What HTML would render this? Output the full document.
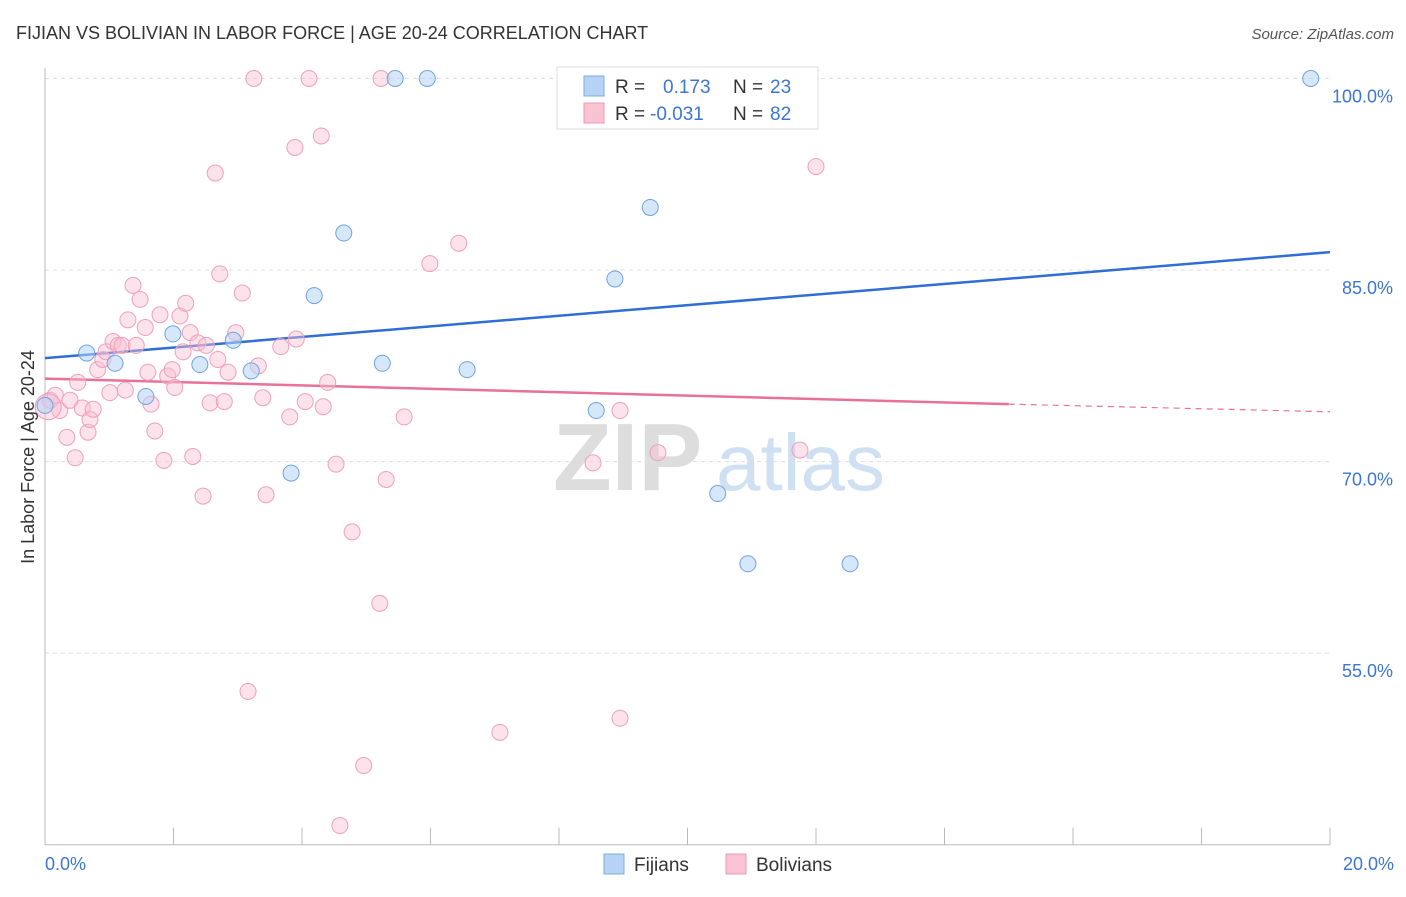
<!DOCTYPE html>
<html><head><meta charset="utf-8"><style>
body{margin:0;background:#fff;font-family:"Liberation Sans",sans-serif}
svg text{font-family:"Liberation Sans",sans-serif}
</style></head><body>
<svg width="1406" height="892" xmlns="http://www.w3.org/2000/svg">
<text x="16" y="39" font-size="18" fill="#333">FIJIAN VS BOLIVIAN IN LABOR FORCE | AGE 20-24 CORRELATION CHART</text>
<text x="1394" y="39" font-size="15" fill="#555" text-anchor="end" font-style="italic">Source: ZipAtlas.com</text>
<g>
<text x="553" y="490" font-size="96" font-weight="bold" fill="#ddd">ZIP</text>
<text x="716" y="490" font-size="80" fill="#cfe0f3">atlas</text>
</g>
<g id="grid"></g>
<g id="axes"></g>
<g id="lines"></g>
<g id="pts"></g>
<text transform="translate(34,457) rotate(-90)" font-size="18" fill="#333" text-anchor="middle">In Labor Force | Age 20-24</text>
<g>
<rect x="557" y="67" width="261" height="62" fill="#fff" stroke="#ddd"/>
<rect x="584" y="76" width="20" height="20" fill="#b6d3f5" stroke="#7aaee6"/>
<rect x="584" y="103" width="20" height="20" fill="#f9c3d4" stroke="#ee9ab5"/>
<text x="615" y="93" font-size="19" fill="#333">R =</text>
<text x="663" y="93" font-size="19" fill="#3b76d6">0.173</text>
<text x="733" y="93" font-size="19" fill="#333">N =</text>
<text x="770" y="93" font-size="19" fill="#3b76d6">23</text>
<text x="615" y="120" font-size="19" fill="#333">R =</text>
<text x="650" y="120" font-size="19" fill="#3b76d6">-0.031</text>
<text x="733" y="120" font-size="19" fill="#333">N =</text>
<text x="770" y="120" font-size="19" fill="#3b76d6">82</text>
</g>
<g>
<rect x="604" y="854" width="20" height="20" fill="#b6d3f5" stroke="#7aaee6"/>
<text x="634" y="871" font-size="19" fill="#333">Fijians</text>
<rect x="726" y="854" width="20" height="20" fill="#f9c3d4" stroke="#ee9ab5"/>
<text x="756" y="871" font-size="19" fill="#333">Bolivians</text>
</g>
</svg>
<script>
const yTicks=[100,85,70,55];
const yTickLabels=["100.0%","85.0%","70.0%","55.0%"];
const xTickLabels=["0.0%","20.0%"];
const fijX=[0,0.65,1.09,1.57,1.99,2.41,2.93,3.21,3.83,4.19,4.65,5.25,5.45,5.95,6.57,8.58,8.87,9.42,10.47,10.94,12.53,19.7,9.73];
const fijY=[74.4,78.5,77.7,75.1,80.0,77.6,79.5,77.1,69.1,83.0,87.9,77.7,100,100,77.2,74.0,84.3,89.9,67.5,62.0,62.0,100,100];
const bolX=[0.08,0.16,0.23,0.34,0.39,0.47,0.51,0.58,0.67,0.70,0.75,0.82,0.90,0.95,1.01,1.06,1.14,1.20,1.25,1.29,1.37,1.42,1.48,1.56,1.60,1.65,1.71,1.79,1.85,1.91,1.98,2.02,2.10,2.15,2.19,2.26,2.30,2.38,2.46,2.51,2.57,2.65,2.69,2.72,2.79,2.85,2.97,3.07,3.16,3.25,3.32,3.39,3.44,3.67,3.81,3.89,3.91,4.05,4.11,4.30,4.33,4.40,4.53,4.59,4.78,4.96,5.21,5.23,5.31,5.59,5.99,6.44,7.08,8.53,8.95,8.95,9.54,11.28,11.75,12.00,0.05];
const bolY=[74.8,75.2,74.0,71.9,74.8,70.3,76.2,74.2,72.3,73.3,74.1,77.2,78.0,78.6,75.4,79.4,79.1,79.1,75.6,81.1,83.8,79.1,82.7,80.5,77.0,74.5,72.4,81.5,70.1,76.7,77.2,75.8,81.4,78.6,82.4,80.1,70.4,79.3,67.3,79.1,74.6,92.6,78.0,84.7,74.7,77.0,80.1,83.2,52.0,100,77.5,75.0,67.4,79.0,73.5,94.6,79.6,74.7,100,95.5,74.3,76.2,69.8,41.5,64.5,46.2,58.9,100,68.6,73.5,85.5,87.1,48.8,69.9,74.0,49.9,70.7,100,70.9,93.1,74.3];
const fijTrend=[78.1,86.4];
const bolTrend=[76.5,74.5,73.9];
const X=v=>45+v*64.25, Y=v=>78.5+(100-v)*12.77;
const NS="http://www.w3.org/2000/svg";
function mk(p,t,a){const e=document.createElementNS(NS,t);for(const k in a)e.setAttribute(k,a[k]);document.getElementById(p).appendChild(e);return e;}
yTicks.forEach((t,i)=>{
 const l=mk('grid','line',{x1:45,x2:1330,y1:Y(t),y2:Y(t),stroke:'#ddd','stroke-dasharray':'4,4'});
 
 
 const tx=mk('grid','text',{x:1393,y:Y(t)+24,'font-size':18,fill:'#3b76d6','text-anchor':'end'});
 tx.textContent=yTickLabels[i];
 
 
});
const ax=mk('axes','line',{x1:45,x2:1330,y1:Y(40),y2:Y(40),stroke:'#bbb'});


const ay=mk('axes','line',{x1:45,x2:45,y1:68,y2:Y(40),stroke:'#bbb'});


for(let i=0;i<=10;i++){const t=mk('axes','line',{x1:X(i*2),x2:X(i*2),y1:Y(40)-17,y2:Y(40),stroke:'#bbb'});
 
 }
[[0,'start',45],[20,'end',1394]].forEach((d,i)=>{const t=mk('axes','text',{x:d[2],y:870,'font-size':18,fill:'#3b76d6','text-anchor':d[1]});t.textContent=xTickLabels[i];
 
 });
bolX.forEach((x,i)=>{const c=mk('pts','circle',{cx:X(x),cy:Y(bolY[i]),r:i==bolX.length-1?13:8,fill:'rgba(249,190,210,0.45)',stroke:'#eea0b9','stroke-width':1});
 
 });
fijX.forEach((x,i)=>{const c=mk('pts','circle',{cx:X(x),cy:Y(fijY[i]),r:8,fill:'rgba(182,211,245,0.55)',stroke:'#6fa3e0','stroke-width':1});
 
 });
const fl=mk('lines','line',{x1:X(0),y1:Y(fijTrend[0]),x2:X(20),y2:Y(fijTrend[1]),stroke:'#2f6fd3','stroke-width':2.5});


const bl=mk('lines','line',{x1:X(0),y1:Y(bolTrend[0]),x2:X(15),y2:Y(bolTrend[1]),stroke:'#e8709a','stroke-width':2.5});


const bd=mk('lines','line',{x1:X(15),y1:Y(bolTrend[1]),x2:X(20),y2:Y(bolTrend[2]),stroke:'#e8709a','stroke-width':1.2,'stroke-dasharray':'6,5'});


</script>
</body></html>
